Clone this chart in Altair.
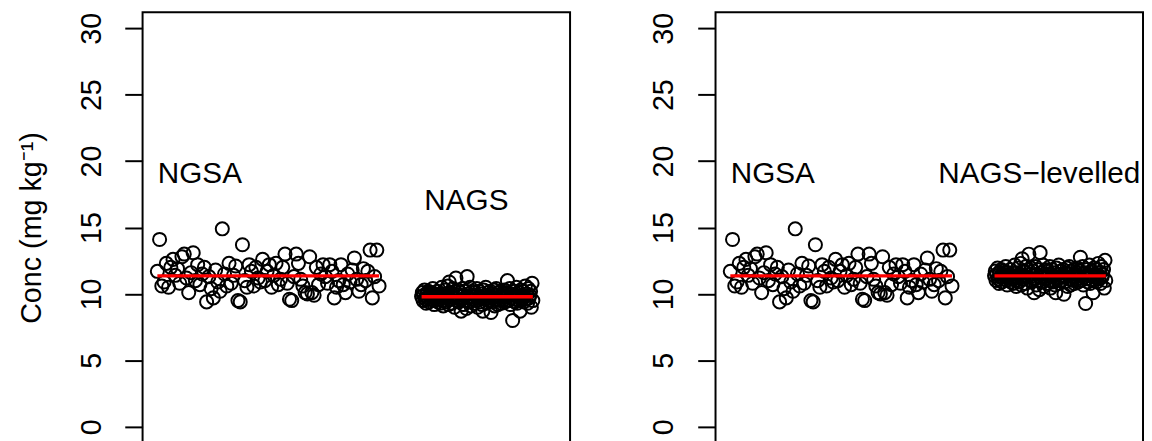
import altair as alt
import pandas as pd

# ---- data ----
NGSA = [
    11.7, 14.1, 10.6, 10.9, 12.3, 10.5, 12.0, 12.6, 11.4, 11.9,
    10.8, 12.8, 13.0, 11.2, 10.1, 11.6, 13.1, 11.0, 12.2, 10.7,
    11.5, 12.0, 9.4, 11.3, 10.4, 9.7, 11.8, 10.9, 10.2, 14.9,
    11.5, 10.6, 12.3, 10.8, 11.4, 12.1, 9.5, 9.4, 13.7, 11.0,
    10.5, 12.2, 11.7, 10.6, 12.0, 11.2, 10.9, 12.6, 11.0, 11.7,
    12.2, 10.5, 11.4, 12.3, 10.7, 11.1, 12.0, 13.0, 10.8, 9.6,
    9.5, 11.3, 13.0, 12.3, 11.1, 10.6, 10.1, 10.0, 12.8, 10.1,
    9.9, 12.0, 10.7, 11.5, 12.2, 11.3, 10.8, 12.2, 11.7, 9.7,
    10.5, 11.0, 12.2, 10.7, 10.1, 11.5, 10.9, 11.8, 12.7, 11.1,
    10.2, 10.7, 11.9, 11.0, 11.7, 13.3, 9.7, 11.3, 13.3, 10.6,
]
NAGS = [
    9.8, 10.1, 9.5, 9.9, 10.3, 9.6, 9.3, 10.0, 9.7, 10.2,
    9.4, 9.9, 10.1, 9.6, 9.8, 10.4, 9.5, 9.2, 10.0, 9.7,
    9.9, 10.2, 9.4, 9.6, 10.0, 9.3, 9.8, 10.5, 9.5, 9.1,
    10.0, 9.7, 10.3, 9.4, 9.9, 10.6, 9.2, 10.9, 9.6, 10.1,
    9.8, 9.3, 10.4, 9.7, 9.0, 10.2, 11.2, 9.5, 9.9, 10.3,
    9.4, 9.8, 10.1, 8.7, 9.6, 10.4, 9.2, 9.9, 10.2, 9.5,
    8.9, 11.3, 9.7, 10.0, 9.4, 10.5, 9.1, 9.8, 10.2, 9.6,
    9.3, 10.1, 9.9, 9.5, 10.4, 9.0, 9.7, 10.2, 9.4, 9.8,
    10.0, 9.2, 8.7, 10.3, 9.6, 9.9, 10.5, 9.3, 9.7, 10.1,
    9.5, 9.8, 10.2, 8.6, 9.4, 10.0, 9.7, 10.3, 9.1, 9.9,
    10.4, 9.6, 9.2, 10.1, 9.8, 9.5, 10.2, 9.3, 9.9, 10.0,
    9.6, 10.3, 9.4, 9.8, 10.1, 11.0, 9.5, 9.9, 10.4, 9.2,
    9.7, 10.0, 8.0, 9.6, 10.2, 9.4, 9.9, 10.5, 9.3, 9.8,
    10.1, 9.5, 8.7, 10.3, 9.7, 9.9, 10.2, 9.4, 9.8, 10.6,
    9.6, 10.0, 9.3, 10.4, 9.7, 9.9, 10.2, 9.0, 10.8, 9.5,
]
NGSA_X_START, NGSA_X_STEP = 1.0, 1.0
NAGS_X_START, NAGS_X_STEP = 119.0, 1.0 / 3.0
Y_TICKS = [0, 5, 10, 15, 20, 25, 30]
X_DOMAIN = [-5.6, 185.3]
Y_DOMAIN = [-1.2, 31.2]
LEFT_LABELS = ["NGSA", "NAGS"]
LEFT_LABEL_X = [20, 139]
LEFT_LABEL_Y = [19, 17]
RIGHT_LABELS = ["NGSA", "NAGS\u2212levelled"]
RIGHT_LABEL_X = [20, 139]
RIGHT_LABEL_Y = [19, 19]
Y_TITLE = "Conc (mg kg\u207b\u00b9)"

# levelling factor: NAGS rescaled to the NGSA mean
level = (sum(NGSA) / len(NGSA)) / (sum(NAGS) / len(NAGS))
NAGS_LEV = [v * level for v in NAGS]


def frame(groups):
    rows = []
    for name, vals, x0, dx in groups:
        for i, v in enumerate(vals):
            rows.append({"group": name, "x": x0 + i * dx, "value": v})
    return pd.DataFrame(rows)


left_df = frame([("NGSA", NGSA, NGSA_X_START, NGSA_X_STEP),
                 ("NAGS", NAGS, NAGS_X_START, NAGS_X_STEP)])
right_df = frame([("NGSA", NGSA, NGSA_X_START, NGSA_X_STEP),
                  ("NAGS-levelled", NAGS_LEV, NAGS_X_START, NAGS_X_STEP)])

FONT = "Liberation Sans"
xs = alt.Scale(domain=X_DOMAIN, nice=False, zero=False)
ys = alt.Scale(domain=Y_DOMAIN, nice=False, zero=False)


def panel(df, labels, lx, ly, title):
    axis_kw = dict(values=Y_TICKS, domain=False, grid=False, tickColor="black",
                   tickWidth=2, tickSize=18, labelAngle=-90, labelAlign="center",
                   labelBaseline="bottom", labelPadding=19, labelFontSize=29,
                   labelFont=FONT, labelColor="black", format="d")
    if title:
        axis_kw.update(title=title, titleFont=FONT, titleFontSize=29,
                       titleFontWeight="normal", titleColor="black",
                       titleAngle=-90, titleX=-103, titleBaseline="alphabetic",
                       titleAlign="center")
    else:
        axis_kw.update(title=None)
    yaxis = alt.Axis(**axis_kw)
    base = alt.Chart(df)
    pts = base.mark_point(shape="circle", filled=False, color="black", size=175,
                          strokeWidth=2, opacity=1).encode(
        x=alt.X("x:Q", scale=xs, axis=None),
        y=alt.Y("value:Q", scale=ys, axis=yaxis),
    )
    rule = base.transform_aggregate(
        m="mean(value)", x0="min(x)", x1="max(x)", groupby=["group"]
    ).mark_rule(color="#ff0000", strokeWidth=3.5).encode(
        x=alt.X("x0:Q", scale=xs, axis=None),
        x2="x1:Q",
        y=alt.Y("m:Q", scale=ys, axis=yaxis),
    )
    ldf = pd.DataFrame({"label": labels, "x": lx, "y": ly})
    txt = alt.Chart(ldf).mark_text(font=FONT, fontSize=30, color="black").encode(
        x=alt.X("x:Q", scale=xs, axis=None),
        y=alt.Y("y:Q", scale=ys, axis=yaxis),
        text="label:N",
    )
    return alt.layer(pts, rule, txt).properties(width=432, height=435)


chart = alt.hconcat(
    panel(left_df, LEFT_LABELS, LEFT_LABEL_X, LEFT_LABEL_Y, Y_TITLE),
    panel(right_df, RIGHT_LABELS, RIGHT_LABEL_X, RIGHT_LABEL_Y, None),
    spacing=79,
).properties(
    padding={"left": 9, "top": 0, "right": 0, "bottom": 0},
    background="white",
).configure_view(
    stroke="black", strokeWidth=2
)

chart.save("out.html", embed_options={"renderer": "svg", "actions": False})
